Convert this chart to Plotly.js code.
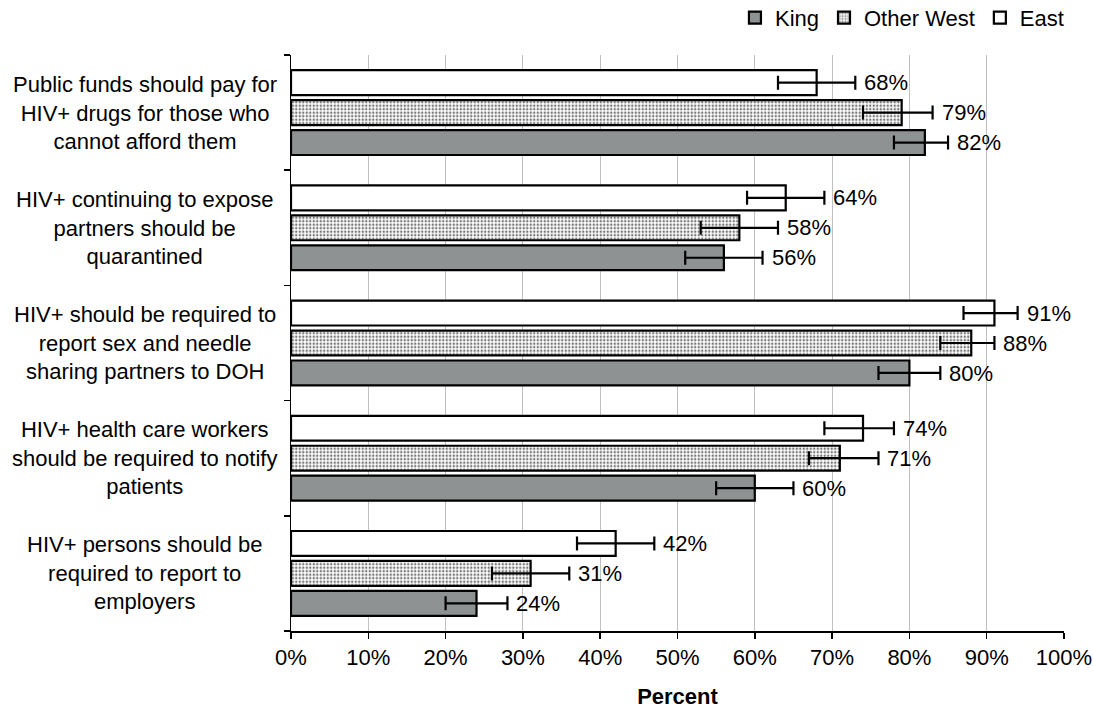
<!DOCTYPE html>
<html>
<head>
<meta charset="utf-8">
<script src="https://cdn.plot.ly/plotly-3.0.1.min.js"></script>
<style>html,body{margin:0;padding:0;background:#fff;}#chart{width:1093px;height:709px;}</style>
</head>
<body>
<div id="chart"></div>
<script>
// Categories, listed top to bottom as in the chart
const categories = [
  "Public funds should pay for<br>HIV+ drugs for those who<br>cannot afford them",
  "HIV+ continuing to expose<br>partners should be<br>quarantined",
  "HIV+ should be required to<br>report sex and needle<br>sharing partners to DOH",
  "HIV+ health care workers<br>should be required to notify<br>patients",
  "HIV+ persons should be<br>required to report to<br>employers"
];
const seriesNames = ["King", "Other West", "East"];

const king      = [82, 56, 80, 60, 24];
const kingLow   = [78, 51, 76, 55, 20];
const kingHigh  = [85, 61, 84, 65, 28];

const otherWest     = [79, 58, 88, 71, 31];
const otherWestLow  = [74, 53, 84, 67, 26];
const otherWestHigh = [83, 63, 91, 76, 36];

const east      = [68, 64, 91, 74, 42];
const eastLow   = [63, 59, 87, 69, 37];
const eastHigh  = [73, 69, 94, 78, 47];

const xTickVals = [0,10,20,30,40,50,60,70,80,90,100];
const xTickText = ["0%","10%","20%","30%","40%","50%","60%","70%","80%","90%","100%"];

const FONT = "Liberation Sans, Arial, sans-serif";
const FS = 22;

function mkTrace(name, vals, lo, hi, style) {
  return Object.assign({
    type: "bar",
    orientation: "h",
    name: name,
    y: categories,
    x: vals,
    error_x: {
      type: "data",
      symmetric: false,
      array: vals.map((v, i) => hi[i] - v),
      arrayminus: vals.map((v, i) => v - lo[i]),
      color: "#000",
      thickness: 2.2,
      width: 7
    },
    hoverinfo: "x+name"
  }, style);
}

const traces = [
  mkTrace(seriesNames[0], king, kingLow, kingHigh, {
    marker: {color: "#8e9292", line: {color: "#000", width: 2.2}}
  }),
  mkTrace(seriesNames[1], otherWest, otherWestLow, otherWestHigh, {
    marker: {
      color: "#ffffff",
      line: {color: "#000", width: 2.2},
      pattern: {shape: ".", fgcolor: "#7a7a7a", bgcolor: "#ffffff", size: 3.5, solidity: 0.4}
    }
  }),
  mkTrace(seriesNames[2], east, eastLow, eastHigh, {
    marker: {color: "#ffffff", line: {color: "#000", width: 2.2}}
  })
];

const annotations = [];
// category labels, centred
categories.forEach(c => {
  annotations.push({
    xref: "paper", yref: "y", x: -0.189, y: c,
    text: c, showarrow: false, xanchor: "center", yanchor: "middle", align: "center",
    font: {family: FONT, size: FS, color: "#000"}
  });
});
// value labels
const sets = [[king, kingHigh, -30], [otherWest, otherWestHigh, 0], [east, eastHigh, 30]];
sets.forEach(([vals, hi, ys]) => {
  vals.forEach((v, i) => {
    annotations.push({
      xref: "x", yref: "y", x: hi[i], y: categories[i], yshift: ys, xshift: 7,
      text: v + "%", showarrow: false, xanchor: "left", yanchor: "middle",
      font: {family: FONT, size: FS, color: "#000"}
    });
  });
});

const layout = {
  width: 1093, height: 709,
  margin: {l: 291, r: 29, t: 55, b: 78, autoexpand: false},
  paper_bgcolor: "#fff", plot_bgcolor: "#fff",
  font: {family: FONT, size: FS, color: "#000"},
  barmode: "group",
  bargap: 0.22,
  bargroupgap: 0.17,
  showlegend: true,
  legend: {
    orientation: "h", xref: "container", yref: "container",
    x: 0.978, xanchor: "right", y: 0.975, yanchor: "middle",
    font: {family: FONT, size: FS, color: "#000"},
    itemwidth: 30, tracegroupgap: 0, bgcolor: "rgba(0,0,0,0)"
  },
  xaxis: {
    range: [0, 100], tickvals: xTickVals, ticktext: xTickText,
    automargin: false,
    showgrid: true, gridcolor: "#c0c0c0", gridwidth: 1,
    showline: true, linecolor: "#000", linewidth: 1.5,
    ticks: "outside", ticklen: 6, tickcolor: "#000", tickwidth: 1.5,
    zeroline: false, fixedrange: true,
    tickfont: {family: FONT, size: FS, color: "#000"},
    title: {text: "<b>Percent</b>", font: {family: FONT, size: FS, color: "#000"}, standoff: 22}
  },
  yaxis: {
    type: "category", automargin: false,
    categoryorder: "array", categoryarray: categories.slice().reverse(),
    showticklabels: false,
    showline: true, linecolor: "#000", linewidth: 1.5,
    ticks: "outside", tickson: "boundaries", ticklen: 6, tickcolor: "#000", tickwidth: 1.5,
    showgrid: false, zeroline: false, fixedrange: true
  },
  annotations: annotations
};

Plotly.newPlot("chart", traces, layout, {displayModeBar: false, staticPlot: true});
</script>
</body>
</html>
